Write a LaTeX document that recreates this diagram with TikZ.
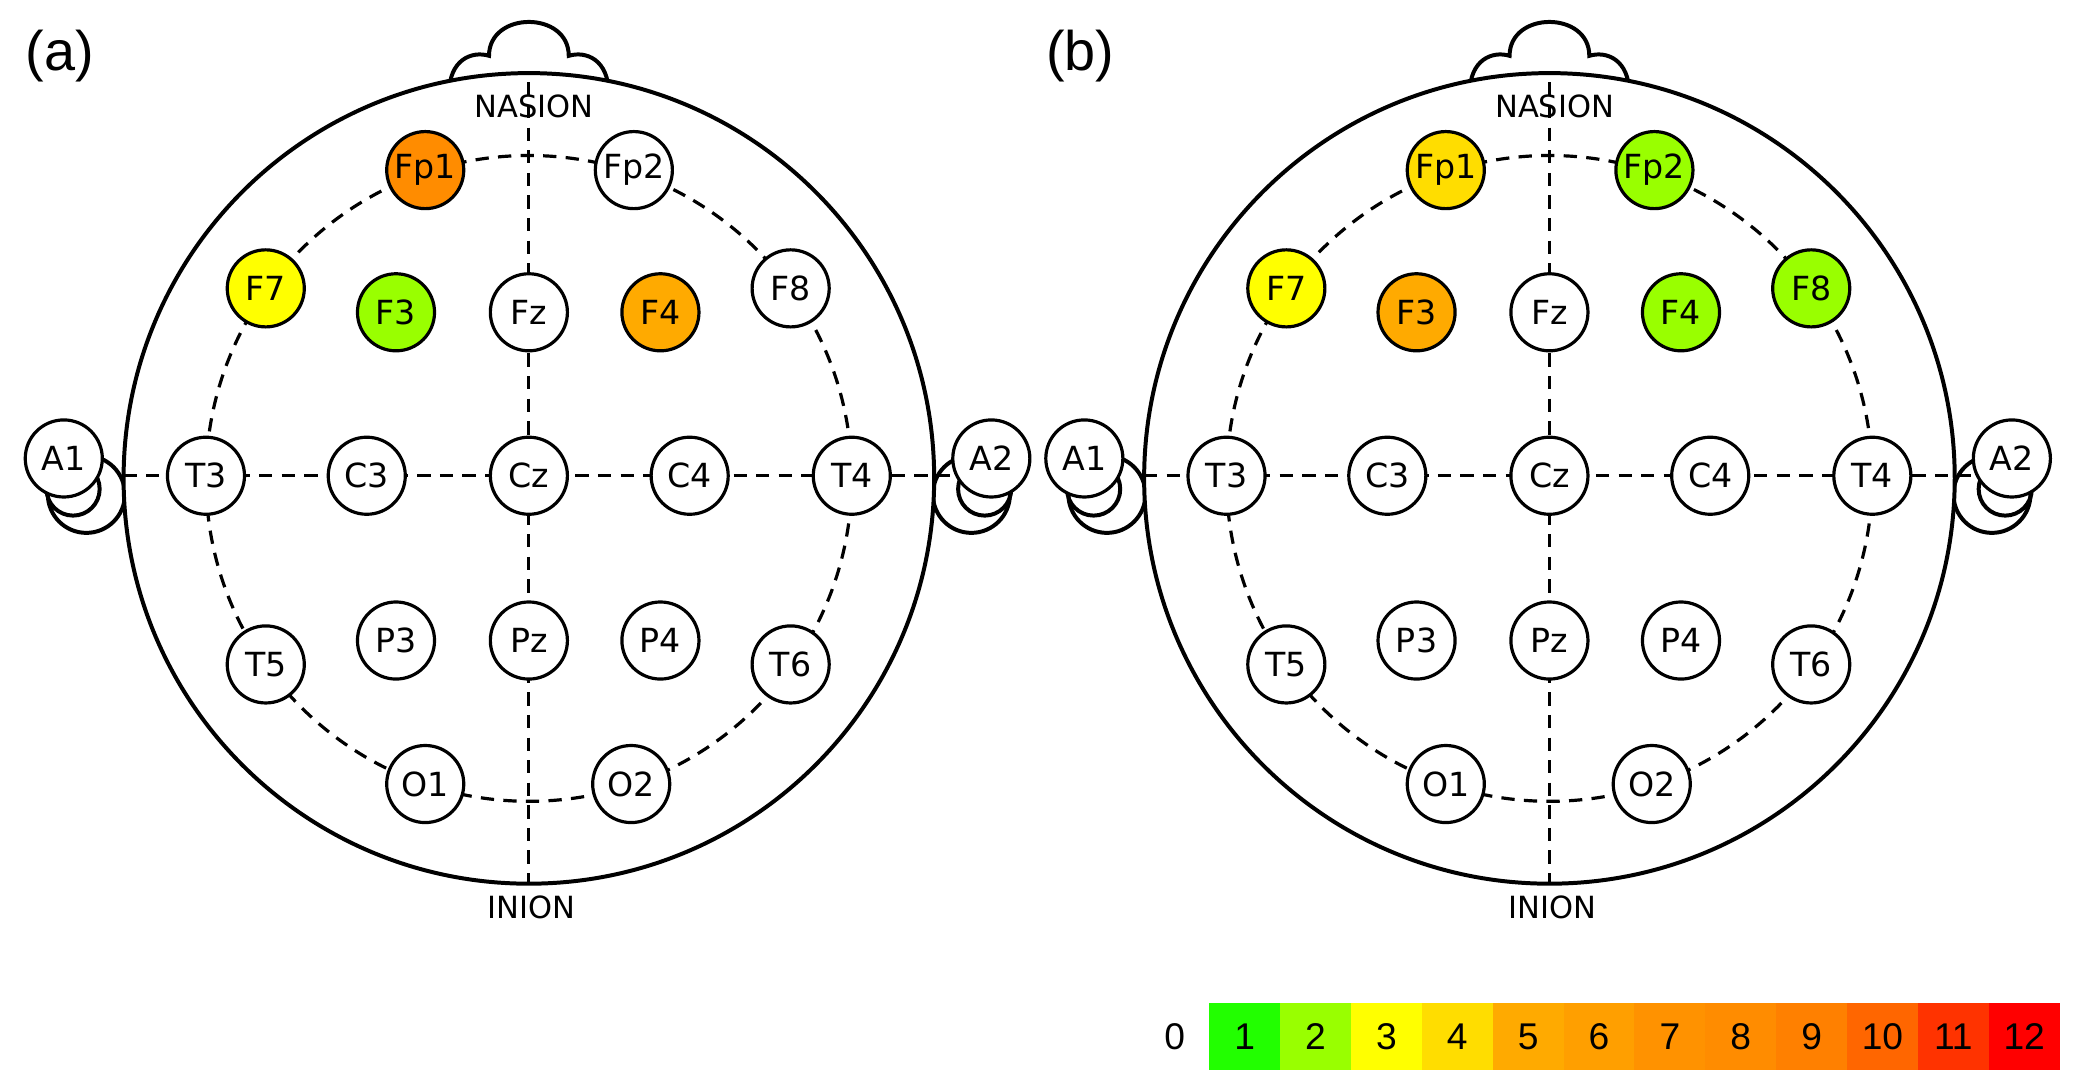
\documentclass[tikz,border=0pt]{standalone}
\usepackage{fontspec}
\setmainfont{DejaVu Sans}
\newfontfamily\arl{Liberation Sans}
\begin{document}
\begin{tikzpicture}[x=0.5pt,y=-0.5pt,
  el/.style={circle,draw,line width=1.2pt,minimum size=29pt,inner sep=0pt,font=\fontsize{12.5}{14}\selectfont},
  dsh/.style={line width=1.2pt,dash pattern=on 5pt off 3.5pt},
  hd/.style={line width=1.5pt},
  lbl/.style={font=\fontsize{11.5}{13}\selectfont},
  cb/.style={minimum width=26.7pt,minimum height=25pt,inner sep=0pt,font=\arl\fontsize{14}{16}\selectfont}]
\useasboundingbox (0,0) rectangle (1560,821);
\definecolor{c1}{HTML}{22FF00}\definecolor{c2}{HTML}{99FF00}\definecolor{c3}{HTML}{FFFF00}
\definecolor{c4}{HTML}{FFDD00}\definecolor{c5}{HTML}{FFAA00}\definecolor{c6}{HTML}{FF9F00}
\definecolor{c7}{HTML}{FF9200}\definecolor{c8}{HTML}{FF8C00}\definecolor{c9}{HTML}{FF8000}
\definecolor{c10}{HTML}{FF6600}\definecolor{c11}{HTML}{FF3300}\definecolor{c12}{HTML}{FF0000}
\newcommand{\myhead}[9]{%
 \begin{scope}[xshift=#1*0.5pt]
  % ears
  \draw[hd] (65,372) circle (29);
  \draw[hd] (731,372) circle (29);
  \draw[hd] (55,368) circle (20);
  \draw[hd] (741,368) circle (20);
  % nose
  \draw[hd,fill=white] (338,70) .. controls (338,45) and (355,38) .. (368,42)
     .. controls (368,8) and (428,8) .. (428,42)
     .. controls (441,38) and (458,45) .. (458,70);
  \draw[hd,fill=white] (398,360) circle (305);
  \draw[dsh] (398,360) circle (243);
  \draw[dsh] (398,62) -- (398,665);
  \draw[dsh] (93,358) -- (715,358);
  \node[lbl,fill=white,fill opacity=0,text opacity=1] (nas#1) at (402,80) {NASION};
  \node[lbl] (ini#1) at (400,683) {INION};
  \node[font=\arl\fontsize{21}{24}\selectfont] (lab#1) at (45,42) {(#2)};
  \node[el,fill=#3] (Fpa#1) at (320,128) {Fp1};
  \node[el,fill=#4] (Fpb#1) at (477,128) {Fp2};
  \node[el,fill=#5] (F7#1) at (200,217) {F7};
  \node[el,fill=#6] (F3#1) at (298,235) {F3};
  \node[el,fill=white] (Fz#1) at (398,235) {Fz};
  \node[el,fill=#7] (F4#1) at (497,235) {F4};
  \node[el,fill=#8] (F8#1) at (595,217) {F8};
  \node[el,fill=white] (A1#1) at (48,345) {A1};
  \node[el,fill=white] (A2#1) at (746,345) {A2};
  \node[el,fill=white] (T3#1) at (155,358) {T3};
  \node[el,fill=white] (C3#1) at (276,358) {C3};
  \node[el,fill=white] (Cz#1) at (398,358) {Cz};
  \node[el,fill=white] (C4#1) at (519,358) {C4};
  \node[el,fill=white] (T4#1) at (641,358) {T4};
  \node[el,fill=white] (T5#1) at (200,500) {T5};
  \node[el,fill=white] (P3#1) at (298,482) {P3};
  \node[el,fill=white] (Pz#1) at (398,482) {Pz};
  \node[el,fill=white] (P4#1) at (497,482) {P4};
  \node[el,fill=white] (T6#1) at (595,500) {T6};
  \node[el,fill=white] (O1#1) at (320,590) {O1};
  \node[el,fill=white] (O2#1) at (475,590) {O2};
 \end{scope}}
\myhead{0}{a}{c8}{white}{c3}{c2}{c5}{white}{}
\myhead{768}{b}{c4}{c2}{c3}{c5}{c2}{c2}{}
\node[cb] (z0) at (884,780) {0};
\foreach \i in {1,...,12}{
  \node[cb,fill=c\i] (cb\i) at ({910+53.33*(\i-0.5)},780) {\i};
}
\end{tikzpicture}
\end{document}
